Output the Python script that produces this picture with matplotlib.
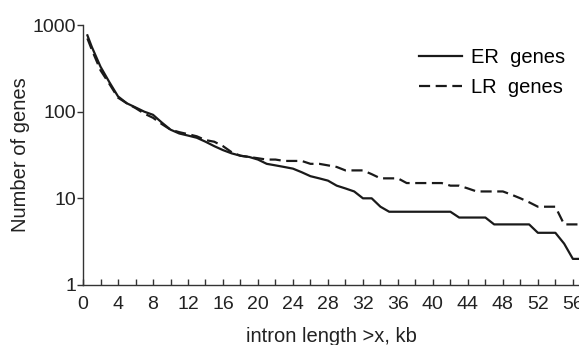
import numpy as np
import matplotlib
matplotlib.use("Agg")
import matplotlib.pyplot as plt
from matplotlib.ticker import MultipleLocator, NullLocator, FixedLocator, FixedFormatter

plt.rcParams['font.family'] = ['Liberation Sans', 'DejaVu Sans']

# intron length threshold, kb
x_kb = [0.5] + list(range(1, 58))

# number of genes with intron length > x
er_genes = [760, 560, 330, 220, 150, 125, 112, 100, 92, 75,
            62, 56, 53, 50, 45, 40, 36, 33, 31, 30,
            28, 25, 24, 23, 22, 20, 18, 17, 16, 14,
            13, 12, 10, 10, 8, 7, 7, 7, 7, 7,
            7, 7, 7, 6, 6, 6, 6, 5, 5, 5,
            5, 5, 4, 4, 4, 3, 2, 2]
lr_genes = [700, 520, 300, 210, 145, 125, 110, 95, 85, 72,
            62, 58, 55, 52, 47, 45, 40, 34, 31, 30,
            29, 28, 28, 27, 27, 27, 25, 25, 24, 23,
            21, 21, 21, 19, 17, 17, 17, 15, 15, 15,
            15, 15, 14, 14, 13, 12, 12, 12, 12, 11,
            10, 9, 8, 8, 8, 5, 5, 5]

fig = plt.figure(figsize=(5.79, 3.45), dpi=100)
ax = fig.add_axes([0.1434, 0.174, 0.8566, 0.7535])

ax.plot(x_kb, er_genes, color='#1a1a1a', lw=1.6, label='ER  genes')
ax.plot(x_kb, lr_genes, color='#1a1a1a', lw=1.6, dashes=(5, 2.5), label='LR  genes')

ax.set_yscale('log')
ax.set_ylim(1, 1000)
ax.set_xlim(0, 56.7)
ax.yaxis.set_major_locator(FixedLocator([1, 10, 100, 1000]))
ax.yaxis.set_major_formatter(FixedFormatter(['1', '10', '100', '1000']))
ax.yaxis.set_minor_locator(NullLocator())
ax.xaxis.set_major_locator(MultipleLocator(4))
ax.xaxis.set_minor_locator(MultipleLocator(2))

for s in ['top', 'right']:
    ax.spines[s].set_visible(False)
for s in ['left', 'bottom']:
    ax.spines[s].set_linewidth(1.0)
    ax.spines[s].set_color('#333333')

ax.tick_params(axis='x', which='both', direction='in', length=4, width=1, colors='#333333',
               labelsize=14, labelcolor='#222222', pad=8)
ax.tick_params(axis='y', which='both', direction='out', length=4, width=1, colors='#333333',
               labelsize=14, labelcolor='#222222', pad=1)

ax.set_xlabel('intron length >x, kb', fontsize=14.5, color='#222222', labelpad=10)
ax.set_ylabel('Number of genes', fontsize=14.5, color='#222222', labelpad=2)

ax.legend(loc='upper right', bbox_to_anchor=(1.0, 0.965), frameon=False, fontsize=14.5,
          handlelength=2.1, handletextpad=0.45, labelspacing=0.55, borderaxespad=0.3)

fig.savefig('out.png', dpi=100)
